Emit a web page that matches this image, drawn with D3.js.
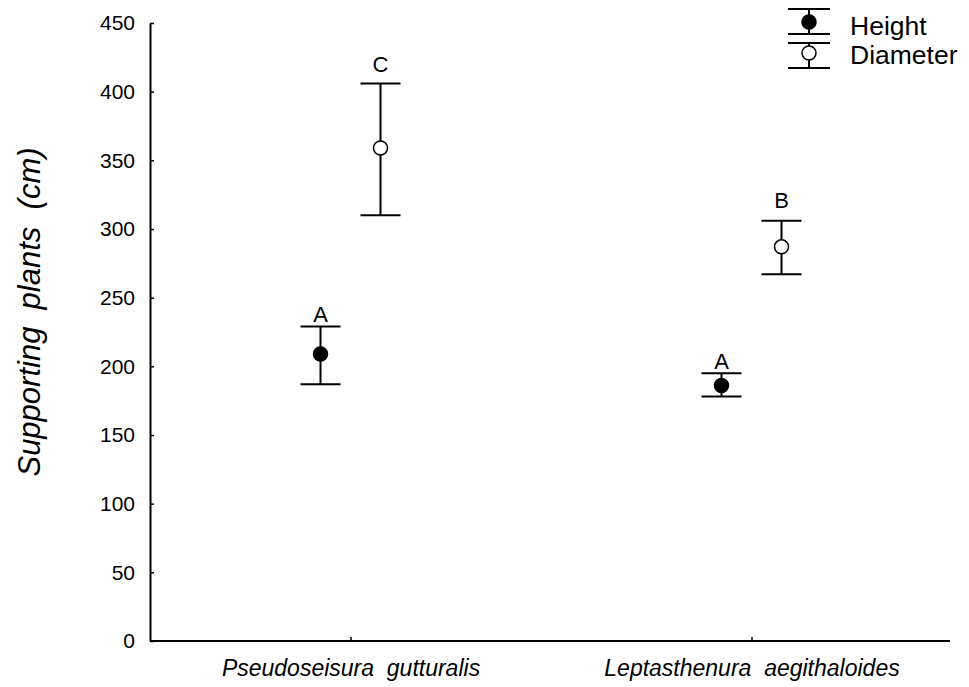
<!DOCTYPE html>
<html>
<head>
<meta charset="utf-8">
<script src="https://cdn.jsdelivr.net/npm/d3@7"></script>
<style>
  body { margin: 0; background: #fff; }
  svg { display: block; font-family: "Liberation Sans", Arial, sans-serif; }
  text { white-space: pre; }
</style>
</head>
<body>
<svg id="chart" width="969" height="687"></svg>
<script>
const species = ['Pseudoseisura  gutturalis', 'Leptasthenura  aegithaloides'];
const series = ['Height', 'Diameter'];
const means = { Height: [209, 186], Diameter: [359, 287] };
const lower = { Height: [187, 178], Diameter: [310, 267] };
const upper = { Height: [229, 195], Diameter: [406, 306] };
const letters = { Height: ['A', 'A'], Diameter: ['C', 'B'] };
const letterAt = { Height: [232, 198], Diameter: [414, 315] };
const yTicks = [0, 50, 100, 150, 200, 250, 300, 350, 400, 450];

const svg = d3.select('#chart');
const margin = { left: 150, top: 23, bottom: 46 };
const height = 687;
const font = '"Liberation Sans", Arial, sans-serif';

const x = d3.scalePoint()
    .domain(species)
    .range([margin.left, 952])
    .padding(0.5);

const offset = d3.scalePoint()
    .domain(series)
    .range([-30, 30]);

const y = d3.scaleLinear()
    .domain([0, 450])
    .range([height - margin.bottom, margin.top]);

// y axis
const yAxis = svg.append('g')
    .attr('transform', `translate(${margin.left},0)`)
    .call(d3.axisLeft(y).tickValues(yTicks).tickSizeInner(-4).tickSizeOuter(0).tickPadding(15));
yAxis.select('.domain').attr('stroke-width', 2);
yAxis.selectAll('.tick line').attr('stroke-width', 1.5);
yAxis.selectAll('text').attr('font-size', 21).attr('fill', '#000').attr('font-family', font);

// x axis
const xAxis = svg.append('g')
    .attr('transform', `translate(0,${y(0)})`)
    .call(d3.axisBottom(x).tickSizeInner(-4).tickSizeOuter(0).tickPadding(19));
xAxis.select('.domain').attr('d', `M${margin.left},0H950`).attr('stroke-width', 2);
xAxis.selectAll('.tick line').attr('stroke-width', 1.5);
xAxis.selectAll('text').attr('font-size', 23).attr('font-style', 'italic').attr('fill', '#000')
    .attr('font-family', font)
    .attr('dy', '0.71em');

// y title
svg.append('text')
    .attr('transform', 'translate(40,312) rotate(-90)')
    .attr('text-anchor', 'middle')
    .attr('font-size', 31)
    .attr('font-style', 'italic')
    .text('Supporting  plants  (cm)');

// error bars
const rows = [];
series.forEach(s => species.forEach((sp, i) => rows.push({
    s, sp, mean: means[s][i], lo: lower[s][i], hi: upper[s][i],
    letter: letters[s][i], ly: letterAt[s][i]
})));

const cap = 20;
const g = svg.append('g').attr('stroke', '#000').attr('stroke-width', 2);
const pts = g.selectAll('g.pt').data(rows).join('g')
    .attr('class', 'pt')
    .attr('transform', d => `translate(${x(d.sp) + offset(d.s)},0)`);

pts.append('line').attr('y1', d => y(d.lo)).attr('y2', d => y(d.hi));
pts.append('line').attr('x1', -cap).attr('x2', cap).attr('y1', d => y(d.hi)).attr('y2', d => y(d.hi));
pts.append('line').attr('x1', -cap).attr('x2', cap).attr('y1', d => y(d.lo)).attr('y2', d => y(d.lo));
pts.append('circle')
    .attr('cy', d => y(d.mean))
    .attr('r', 7)
    .attr('fill', d => d.s === 'Height' ? '#000' : '#fff')
    .attr('stroke-width', 1.5);

pts.append('text')
    .attr('y', d => y(d.ly))
    .attr('text-anchor', 'middle')
    .attr('stroke', 'none')
    .attr('font-size', 22)
    .text(d => d.letter);

// legend
const legend = svg.append('g').attr('transform', 'translate(809,0)');
const legendRows = [
    { s: 'Height', top: 9, mid: 22, bot: 34, base: 35 },
    { s: 'Diameter', top: 43, mid: 53, bot: 68, base: 64 }
];
const lg = legend.selectAll('g').data(legendRows).join('g');
lg.append('line').attr('stroke', '#000').attr('stroke-width', 2)
    .attr('y1', d => d.top).attr('y2', d => d.bot);
lg.append('line').attr('stroke', '#000').attr('stroke-width', 2)
    .attr('x1', -21).attr('x2', 21).attr('y1', d => d.top).attr('y2', d => d.top);
lg.append('line').attr('stroke', '#000').attr('stroke-width', 2)
    .attr('x1', -21).attr('x2', 21).attr('y1', d => d.bot).attr('y2', d => d.bot);
lg.append('circle').attr('cy', d => d.mid).attr('r', 7).attr('stroke', '#000').attr('stroke-width', 1.5)
    .attr('fill', d => d.s === 'Height' ? '#000' : '#fff');
lg.append('text')
    .attr('x', 41)
    .attr('y', d => d.base)
    .attr('font-size', 26.5)
    .text(d => d.s);
</script>
</body>
</html>
